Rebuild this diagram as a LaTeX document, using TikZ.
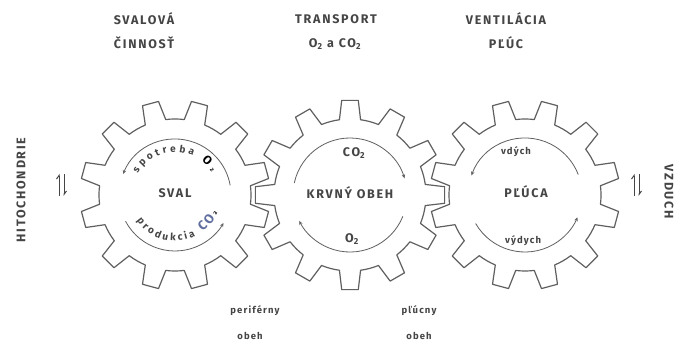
\documentclass[tikz,border=0pt]{standalone}
\usepackage{fontspec}
\setmainfont{Fira Sans}
\newfontfamily\capsfont[LetterSpace=14]{Fira Sans}
\newfontfamily\smallfont[LetterSpace=12]{Fira Sans}
\newfontfamily\subfont{DejaVu Sans}
\usetikzlibrary{decorations.text,arrows.meta}
\definecolor{ink}{HTML}{454545}
\definecolor{gearc}{HTML}{606060}
\definecolor{bluish}{HTML}{5F6E9E}
\tikzset{
  gearline/.style={draw=gearc, line width=1.2pt, line join=round},
  ringarc/.style={draw=gearc, line width=0.8pt},
  tipend/.style={-{Stealth[length=4pt,width=3.5pt]}},
  tipstart/.style={{Stealth[length=4pt,width=3.5pt]}-},
  harp/.style={draw=ink, line width=1pt, -{Straight Barb[harpoon,length=3.5pt,width=5pt]}},
  capsf/.style={text=ink, font=\capsfont\bfseries\fontsize{12.5}{14}\selectfont, inner sep=0pt},
  smallf/.style={text=ink, font=\smallfont\bfseries\fontsize{9.5}{11}\selectfont, inner sep=0pt},
  gear/.pic={
    \path[gearline] ({#1-8}:76pt)
      \foreach \i in {0,...,11}{
        -- ({#1+30*\i-8}:76pt) -- ({#1+30*\i-5}:95pt) -- ({#1+30*\i+5}:95pt) -- ({#1+30*\i+8}:76pt)
        arc[start angle={#1+30*\i+8}, end angle={#1+30*\i+22}, radius=76pt]
      } -- cycle;
  },
}
\begin{document}
\begin{tikzpicture}[x=1pt,y=1pt]
\fill[white] (0,0) rectangle (682,350);
\useasboundingbox (0,0) rectangle (682,350);

% gear centres
\coordinate (c1) at (175,155);
\coordinate (c2) at (350,155);
\coordinate (c3) at (525,155);

\pic at (c1) {gear=15};
\pic at (c2) {gear=0};
\pic at (c3) {gear=15};

% top labels
\node[capsf] (svalova) at (144,331) {SVALOVÁ};
\node[capsf] (cinnost) at (144,307) {ČINNOSŤ};
\node[capsf] (transport) at (336,331) {TRANSPORT};
\node[capsf] (o2co2) at (335,306) {O\textsubscript{2} a CO\textsubscript{2}};
\node[capsf] (ventilacia) at (506,331) {VENTILÁCIA};
\node[capsf] (pluc) at (506,307) {PĽÚC};

% side labels
\node[capsf, rotate=90] (mito) at (21,160) {HITOCHONDRIE};
\node[capsf, rotate=-90] (vzduch) at (669,158) {VZDUCH};

% exchange harpoons
\coordinate (lb1) at (59,154); \coordinate (lt1) at (59,176);
\coordinate (lt2) at (64,176); \coordinate (lb2) at (64,154);
\draw[harp] (lb1) -- (lt1);
\draw[harp] (lt2) -- (lb2);
\coordinate (rb1) at (634,154); \coordinate (rt1) at (634,176);
\coordinate (rt2) at (639,176); \coordinate (rb2) at (639,154);
\draw[harp] (rb1) -- (rt1);
\draw[harp] (rt2) -- (rb2);

% gear 1: SVAL
\node[capsf] (sval) at (175,157) {SVAL};
\draw[ringarc,tipstart] ([shift={(158:56pt)}]c1) arc[start angle=158,end angle=10,radius=56pt];
\draw[ringarc,tipend] ([shift={(208:56pt)}]c1) arc[start angle=208,end angle=330,radius=56pt];
\path[decorate, decoration={text along path, text align=fit to path,
  text={|\color{ink}\smallfont\bfseries\fontsize{10}{11}\selectfont|spotreba |\capsfont\bfseries\fontsize{12}{13}\selectfont|O|\subfont\bfseries\fontsize{8}{9}\selectfont|₂}}]
  ([shift={(150:43pt)}]c1) arc[start angle=150,end angle=32,radius=43pt];
\path[decorate, decoration={text along path, text align=fit to path,
  text={|\color{ink}\smallfont\bfseries\fontsize{10}{11}\selectfont|produkcia |\color{bluish}\capsfont\bfseries\fontsize{13}{14}\selectfont|CO|\subfont\bfseries\fontsize{8}{9}\selectfont|₂}}]
  ([shift={(214:46pt)}]c1) arc[start angle=214,end angle=338,radius=46pt];

% gear 2: KRVNY OBEH
\node[capsf] (krvny) at (350,157) {KRVNÝ OBEH};
\node[capsf] (co2) at (354,197) {CO\textsubscript{2}};
\node[capsf] (o2) at (352,111) {O\textsubscript{2}};
\draw[ringarc,tipend] ([shift={(168:57pt)}]c2) arc[start angle=168,end angle=17,radius=57pt];
\draw[ringarc,tipend] ([shift={(-22:57pt)}]c2) arc[start angle=-22,end angle=-153,radius=57pt];

% gear 3: PLUCA
\node[capsf] (pluca) at (526,158) {PĽÚCA};
\node[smallf] (vdych) at (516,198) {vdých};
\node[smallf] (vydych) at (523,109) {výdych};
\draw[ringarc,tipstart] ([shift={(160:57pt)}]c3) arc[start angle=160,end angle=21,radius=57pt];
\draw[ringarc,tipend] ([shift={(210:57pt)}]c3) arc[start angle=210,end angle=337,radius=57pt];

% bottom labels
\node[smallf] (periferny) at (255,39) {periférny};
\node[smallf] (obeh1) at (250,14) {obeh};
\node[smallf] (plucny) at (419,39) {pľúcny};
\node[smallf] (obeh2) at (419,14) {obeh};
\end{tikzpicture}
\end{document}
